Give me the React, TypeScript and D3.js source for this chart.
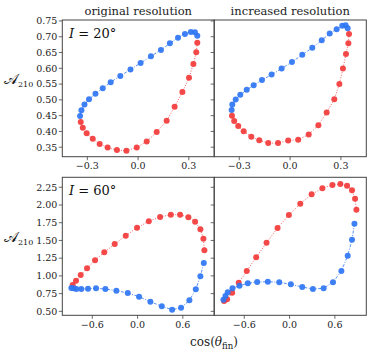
import * as d3 from 'd3'

// top row, I = 20°
const TL_BLUE_X = [-0.343, -0.335, -0.317, -0.290, -0.252, -0.209, -0.162, -0.105, -0.045, 0.015, 0.076, 0.135, 0.188, 0.236, 0.277, 0.312, 0.336, 0.350]
const TL_BLUE_Y = [0.449, 0.467, 0.485, 0.502, 0.519, 0.537, 0.556, 0.576, 0.596, 0.617, 0.638, 0.658, 0.679, 0.697, 0.709, 0.715, 0.714, 0.703]
const TL_RED_X = [0.350, 0.344, 0.327, 0.301, 0.262, 0.216, 0.169, 0.110, 0.051, -0.008, -0.069, -0.125, -0.180, -0.227, -0.268, -0.304, -0.327, -0.339]
const TL_RED_Y = [0.681, 0.651, 0.614, 0.570, 0.525, 0.478, 0.434, 0.398, 0.368, 0.349, 0.339, 0.341, 0.349, 0.360, 0.377, 0.394, 0.412, 0.430]

const TR_BLUE_X = [-0.345, -0.341, -0.321, -0.294, -0.256, -0.215, -0.166, -0.109, -0.050, 0.011, 0.072, 0.131, 0.187, 0.234, 0.275, 0.308, 0.328, 0.340]
const TR_BLUE_Y = [0.468, 0.485, 0.501, 0.516, 0.532, 0.546, 0.563, 0.580, 0.599, 0.620, 0.643, 0.665, 0.689, 0.710, 0.724, 0.735, 0.736, 0.727]
const TR_RED_X = [0.348, 0.344, 0.330, 0.312, 0.291, 0.261, 0.216, 0.167, 0.110, 0.048, -0.011, -0.071, -0.129, -0.182, -0.229, -0.274, -0.306, -0.330, -0.343]
const TR_RED_Y = [0.709, 0.679, 0.645, 0.599, 0.550, 0.502, 0.460, 0.420, 0.390, 0.374, 0.371, 0.363, 0.363, 0.372, 0.383, 0.401, 0.417, 0.433, 0.450]

// bottom row, I = 60°
const BL_RED_X = [-0.860, -0.816, -0.754, -0.670, -0.564, -0.441, -0.303, -0.157, -0.007, 0.149, 0.299, 0.441, 0.564, 0.674, 0.763, 0.833, 0.873, 0.886]
const BL_RED_Y = [0.871, 0.932, 1.012, 1.107, 1.220, 1.333, 1.450, 1.567, 1.680, 1.770, 1.831, 1.864, 1.864, 1.827, 1.765, 1.657, 1.525, 1.361]
const BL_BLUE_X = [0.878, 0.833, 0.772, 0.687, 0.577, 0.458, 0.321, 0.170, 0.020, -0.130, -0.281, -0.427, -0.551, -0.657, -0.746, -0.812, -0.847, -0.878]
const BL_BLUE_Y = [1.182, 0.994, 0.811, 0.655, 0.551, 0.523, 0.571, 0.636, 0.706, 0.758, 0.791, 0.815, 0.825, 0.819, 0.815, 0.815, 0.825, 0.829]

const BR_RED_X = [-0.867, -0.827, -0.760, -0.673, -0.567, -0.442, -0.305, -0.159, -0.009, 0.142, 0.292, 0.434, 0.567, 0.673, 0.761, 0.827, 0.867, 0.885]
const BR_RED_Y = [0.645, 0.669, 0.763, 0.904, 1.069, 1.262, 1.468, 1.676, 1.859, 2.019, 2.152, 2.236, 2.283, 2.297, 2.273, 2.208, 2.089, 1.934]
const BR_BLUE_X = [0.859, 0.827, 0.770, 0.686, 0.575, 0.451, 0.309, 0.168, 0.017, -0.137, -0.288, -0.429, -0.553, -0.663, -0.756, -0.819, -0.849, -0.876]
const BR_BLUE_Y = [1.737, 1.511, 1.285, 1.069, 0.909, 0.825, 0.815, 0.843, 0.881, 0.909, 0.918, 0.914, 0.895, 0.861, 0.825, 0.768, 0.716, 0.664]

const TOP_X_TICKS = [-0.3, 0, 0.3]
const TOP_Y_TICKS = [0.35, 0.40, 0.45, 0.50, 0.55, 0.60, 0.65, 0.70, 0.75]
const BOT_X_TICKS = [-0.6, 0, 0.6]
const BOT_Y_TICKS = [0.50, 0.75, 1.00, 1.25, 1.50, 1.75, 2.00, 2.25]

const TITLES = ['original resolution', 'increased resolution']
const ROW_LABELS = ['20°', '60°']

const RED = '#f23a3a'
const BLUE = '#2f76f3'
const FRAME = '#444'
const FONT = '"DejaVu Serif", serif'

const COLS = [[62.3, 214.2], [214.2, 366.3]]
const ROWS = [[20, 156.7], [177.3, 315.3]]
const X_DOMAINS = [[-0.448, 0.450], [-0.998, 1.016]]
const Y_DOMAINS = [[0.320, 0.753], [0.444, 2.391]]

const fmt = (v: number, digits: number) => v.toFixed(digits).replace('-', '\u2212')

type Series = { xs: number[]; ys: number[]; color: string; dash: string }

function Panel({ col, row, series, xTicks, yTicks, xDig, yDig }: {
  col: number; row: number; series: Series[]
  xTicks: number[]; yTicks: number[]; xDig: number; yDig: number
}) {
  const [x0, x1] = COLS[col]
  const [y0, y1] = ROWS[row]
  const x = d3.scaleLinear().domain(X_DOMAINS[row]).range([x0, x1])
  const y = d3.scaleLinear().domain(Y_DOMAINS[row]).range([y1, y0])
  const line = d3.line<[number, number]>().x(d => x(d[0])).y(d => y(d[1]))

  return (
    <g>
      {series.map((s, i) => {
        const pts = s.xs.map((v, j) => [v, s.ys[j]] as [number, number])
        return (
          <g key={i}>
            <path d={line(pts) ?? ''} fill="none" stroke={s.color} strokeWidth={1}
              strokeDasharray={s.dash} opacity={0.8} />
            {pts.map((p, j) => (
              <circle key={j} cx={x(p[0])} cy={y(p[1])} r={3} fill={s.color} opacity={0.92} />
            ))}
          </g>
        )
      })}
      <rect x={x0} y={y0} width={x1 - x0} height={y1 - y0} fill="none" stroke={FRAME} strokeWidth={1} />
      {xTicks.map(t => (
        <g key={'x' + t}>
          <line x1={x(t)} x2={x(t)} y1={y1} y2={y1 + 3.5} stroke={FRAME} strokeWidth={0.8} />
          <text x={x(t)} y={y1 + 12.5} textAnchor="middle" fontSize={9.5} fill="#222" fontFamily={FONT}>
            {fmt(t, xDig)}
          </text>
        </g>
      ))}
      {yTicks.map(t => (
        <g key={'y' + t}>
          <line x1={x0 - 3.5} x2={x0} y1={y(t)} y2={y(t)} stroke={FRAME} strokeWidth={0.8} />
          {col === 0 && (
            <text x={x0 - 5} y={y(t) + 3.3} textAnchor="end" fontSize={9.5} fill="#222" fontFamily={FONT}>
              {fmt(t, yDig)}
            </text>
          )}
        </g>
      ))}
    </g>
  )
}

export default function App() {
  const red = (xs: number[], ys: number[]): Series => ({ xs, ys, color: RED, dash: '1,1.6' })
  const blue = (xs: number[], ys: number[]): Series => ({ xs, ys, color: BLUE, dash: '3,1.5,1,1.5' })

  return (
    <svg width={374} height={357} style={{ position: 'absolute', left: 0, top: 0, background: '#fff' }}>
      <Panel col={0} row={0} xTicks={TOP_X_TICKS} yTicks={TOP_Y_TICKS} xDig={1} yDig={2}
        series={[blue(TL_BLUE_X, TL_BLUE_Y), red(TL_RED_X, TL_RED_Y)]} />
      <Panel col={1} row={0} xTicks={TOP_X_TICKS} yTicks={TOP_Y_TICKS} xDig={1} yDig={2}
        series={[blue(TR_BLUE_X, TR_BLUE_Y), red(TR_RED_X, TR_RED_Y)]} />
      <Panel col={0} row={1} xTicks={BOT_X_TICKS} yTicks={BOT_Y_TICKS} xDig={1} yDig={2}
        series={[red(BL_RED_X, BL_RED_Y), blue(BL_BLUE_X, BL_BLUE_Y)]} />
      <Panel col={1} row={1} xTicks={BOT_X_TICKS} yTicks={BOT_Y_TICKS} xDig={1} yDig={2}
        series={[red(BR_RED_X, BR_RED_Y), blue(BR_BLUE_X, BR_BLUE_Y)]} />

      {TITLES.map((t, i) => (
        <text key={t} x={(COLS[i][0] + COLS[i][1]) / 2} y={15} textAnchor="middle"
          fontSize={11.5} fill="#222" fontFamily={FONT}>{t}</text>
      ))}

      {ROW_LABELS.map((t, i) => {
        const mid = (ROWS[i][0] + ROWS[i][1]) / 2
        return (
          <g key={t}>
            <text x={69} y={ROWS[i][0] + 18} fontSize={13} fill="#111" fontFamily={FONT}>
              <tspan fontStyle="italic">I</tspan> = {t}
            </text>
            <text x={4} y={mid - 4} fontSize={15} fill="#111" fontFamily={FONT}>𝒜</text>
            <text x={18} y={mid - 1} fontSize={8} fill="#111" fontFamily={FONT}>210</text>
          </g>
        )
      })}

      <text x={214} y={346} textAnchor="middle" fontSize={12} fill="#222" fontFamily={FONT}>
        cos(<tspan fontStyle="italic">θ</tspan><tspan fontSize={8.5} dy={2.5}>fin</tspan><tspan dy={-2.5}>)</tspan>
      </text>
    </svg>
  )
}
